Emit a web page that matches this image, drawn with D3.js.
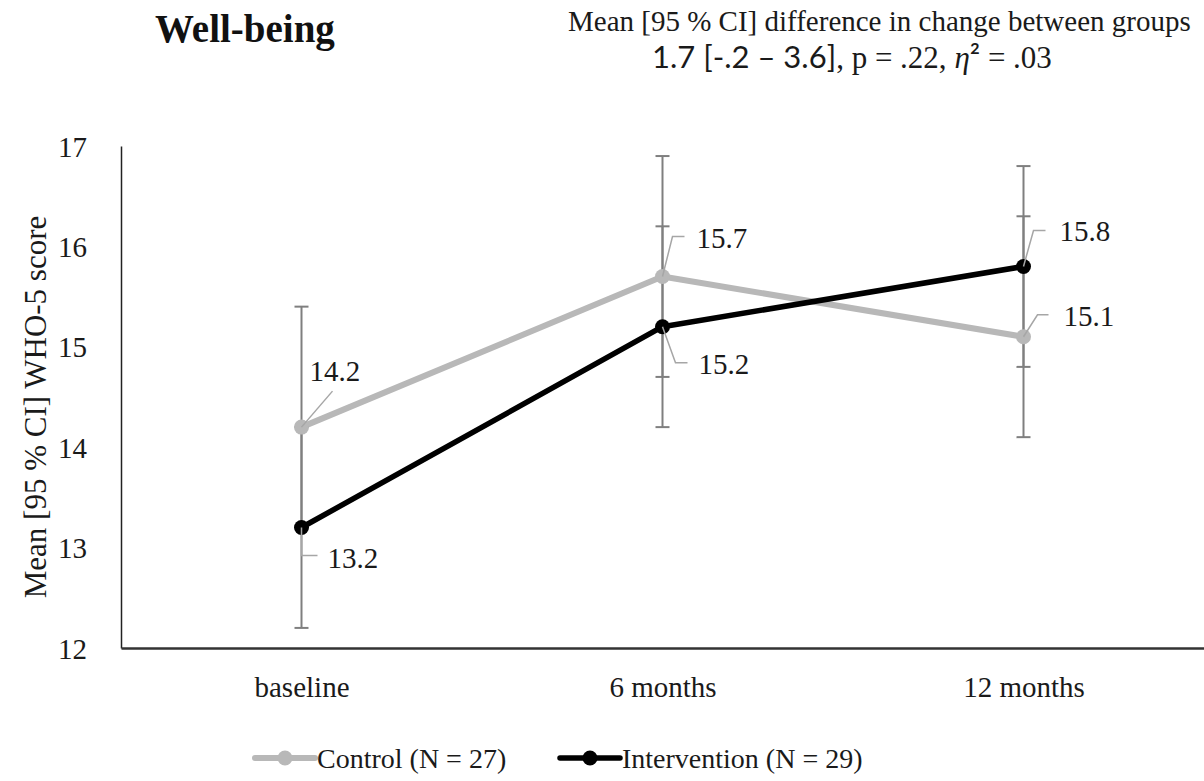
<!DOCTYPE html>
<html>
<head>
<meta charset="utf-8">
<script src="https://cdn.jsdelivr.net/npm/d3@7"></script>
<style>
  html, body { margin: 0; padding: 0; background: #fff; }
  svg { display: block; }
  text { font-family: "Liberation Serif", "Times New Roman", serif; fill: #1a1a1a; }
</style>
</head>
<body>
<div id="chart"></div>
<script>
// Time points and group results (WHO-5 well-being)
const timepoints = ["baseline", "6 months", "12 months"];
const controlMean = [14.2, 15.7, 15.1];
const controlLow  = [13.2, 14.7, 14.1];
const controlHigh = [15.4, 16.9, 16.3];
const interventionMean = [13.2, 15.2, 15.8];
const interventionLow  = [12.2, 14.2, 14.8];
const interventionHigh = [14.2, 16.2, 16.8];
const yTicks = [12, 13, 14, 15, 16, 17];
const seriesNames = ["Control (N = 27)", "Intervention (N = 29)"];

const SERIF = "'Liberation Serif', 'Times New Roman', serif";
const SANS = "Lato, 'Open Sans', sans-serif";

const W = 1204, H = 781;
const plot = { left: 121, right: 1204, top: 146, bottom: 648 };

const svg = d3.select("#chart").append("svg")
  .attr("width", W).attr("height", H)
  .attr("font-family", SERIF);

const x = d3.scalePoint().domain(timepoints)
  .range([plot.left, plot.right]).padding(0.5);
const y = d3.scaleLinear().domain([12, 17]).range([plot.bottom, plot.top]);

const series = [
  { name: seriesNames[0], mean: controlMean, low: controlLow, high: controlHigh,
    color: "#b8b8b8", width: 6, r: 7.5,
    // label offsets [dx, dy] relative to marker, plus leader polyline points
    labels: [
      { dx: 8, dy: -46, leader: [[0, 0], [31, -36]] },
      { dx: 34, dy: -29, leader: [[0, 0], [10, -40], [22, -40]] },
      { dx: 40, dy: -11, leader: [[0, 0], [14, -22], [25, -22]] }
    ] },
  { name: seriesNames[1], mean: interventionMean, low: interventionLow, high: interventionHigh,
    color: "#000000", width: 5.5, r: 7.5,
    labels: [
      { dx: 26, dy: 40, leader: [[0, 0], [0, 28], [16, 28]] },
      { dx: 36, dy: 47, leader: [[0, 0], [13, 36], [25, 36]] },
      { dx: 36, dy: -25, leader: [[0, 0], [10, -36], [22, -36]] }
    ] }
];

// Title and statistics summary
svg.append("text").attr("x", 155).attr("y", 42)
  .style("font-size", "39px").style("font-weight", "bold").style("fill", "#111")
  .text("Well-being");

svg.append("text").attr("x", 568).attr("y", 31)
  .style("font-size", "29px")
  .text("Mean [95 % CI] difference in change between groups");

const stat = svg.append("text").attr("x", 652).attr("y", 68).style("font-size", "31px");
stat.append("tspan").style("font-family", SANS).style("font-size", "31px")
  .text("1.7 [-.2 \u2013 3.6]");
stat.append("tspan").text(", p = .22, ");
stat.append("tspan").style("font-style", "italic").text("\u03b7");
stat.append("tspan").style("font-family", SANS).style("font-size", "31px").text("\u00b2");
stat.append("tspan").text(" = .03");

// Axes
const yAxis = d3.axisLeft(y).tickValues(yTicks).tickSize(0).tickPadding(34).tickFormat(d3.format("d"));
const gy = svg.append("g").attr("transform", `translate(${plot.left},0)`).call(yAxis)
  .attr("font-family", SERIF).attr("font-size", 29);
gy.select(".domain").attr("stroke", "#222").attr("stroke-width", 1.5);
gy.selectAll("text").attr("fill", "#1a1a1a").attr("dy", "0.35em");

const xAxis = d3.axisBottom(x).tickSize(0).tickPadding(28);
const gx = svg.append("g").attr("transform", `translate(0,${plot.bottom})`).call(xAxis)
  .attr("font-family", SERIF).attr("font-size", 29);
gx.select(".domain").attr("stroke", "#333").attr("stroke-width", 2.5);
gx.selectAll("text").attr("fill", "#1a1a1a");

svg.append("text")
  .attr("transform", `translate(46, 407) rotate(-90)`)
  .attr("text-anchor", "middle")
  .style("font-size", "31px")
  .text("Mean [95 % CI] WHO-5 score");

// Series lines
const line = d3.line().x((d, i) => x(timepoints[i])).y(d => y(d));
series.forEach(s => {
  svg.append("path").datum(s.mean)
    .attr("d", line).attr("fill", "none")
    .attr("stroke", s.color).attr("stroke-width", s.width)
    .attr("stroke-linejoin", "round");
});

// 95% CI error bars
const capHalf = 7;
series.forEach(s => {
  const g = svg.append("g").attr("stroke", "#7f7f7f").attr("stroke-width", 2);
  timepoints.forEach((t, i) => {
    const cx = x(t);
    g.append("line").attr("x1", cx).attr("x2", cx).attr("y1", y(s.low[i])).attr("y2", y(s.high[i]));
    [s.low[i], s.high[i]].forEach(v => {
      g.append("line").attr("x1", cx - capHalf).attr("x2", cx + capHalf).attr("y1", y(v)).attr("y2", y(v));
    });
  });
});

// Markers
series.forEach(s => {
  svg.append("g").selectAll("circle").data(s.mean).join("circle")
    .attr("cx", (d, i) => x(timepoints[i])).attr("cy", d => y(d))
    .attr("r", s.r).attr("fill", s.color);
});

// Data labels with leader lines
series.forEach(s => {
  s.mean.forEach((v, i) => {
    const cx = x(timepoints[i]), cy = y(v), L = s.labels[i];
    svg.append("polyline")
      .attr("points", L.leader.map(p => [cx + p[0], cy + p[1]].join(",")).join(" "))
      .attr("fill", "none").attr("stroke", "#a6a6a6").attr("stroke-width", 1.5);
    svg.append("text").attr("x", cx + L.dx).attr("y", cy + L.dy)
      .style("font-size", "29px")
      .text(d3.format(".1f")(v));
  });
});

// Legend
const legend = [
  { name: seriesNames[0], s: series[0], x0: 255 },
  { name: seriesNames[1], s: series[1], x0: 560 }
];
const ly = 758;
legend.forEach(l => {
  const g = svg.append("g");
  g.append("line").attr("x1", l.x0).attr("x2", l.x0 + 60).attr("y1", ly).attr("y2", ly)
    .attr("stroke", l.s.color).attr("stroke-width", l.s.width).attr("stroke-linecap", "round");
  g.append("circle").attr("cx", l.x0 + 30).attr("cy", ly).attr("r", l.s.r).attr("fill", l.s.color);
  g.append("text").attr("x", l.x0 + 62).attr("y", ly + 10).style("font-size", "28px").text(l.name);
});
</script>
</body>
</html>
